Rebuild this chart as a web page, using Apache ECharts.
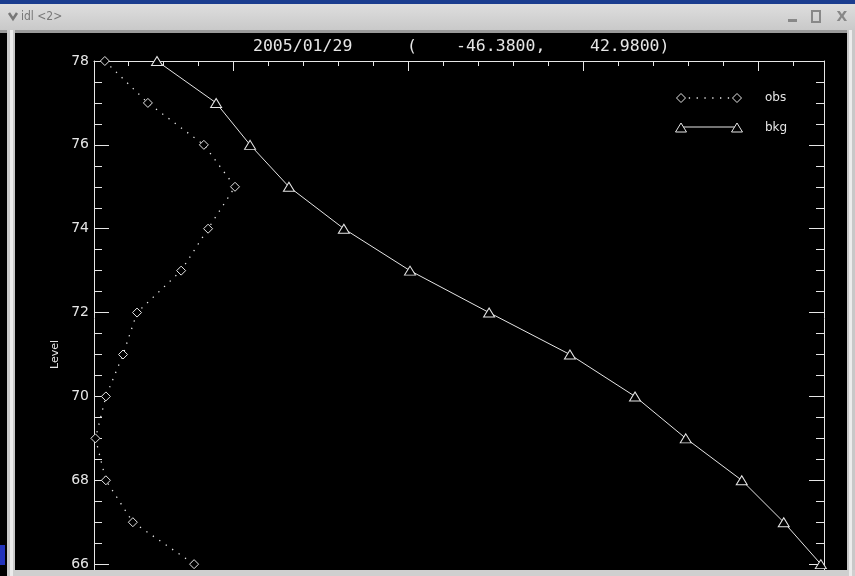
<!DOCTYPE html>
<html>
<head>
<meta charset="utf-8">
<script src="https://cdn.jsdelivr.net/npm/echarts@6/dist/echarts.min.js"></script>
<style>
  html, body { margin: 0; padding: 0; background: #000; }
  #main { width: 855px; height: 576px; }
</style>
</head>
<body>
<div id="main"></div>
<script>
// levels (y) and the two profiles (x, arbitrary units: 1 unit = one minor tick)
const levels = [78, 77, 76, 75, 74, 73, 72, 71, 70, 69, 68, 67, 66];
const obsValues = [1.33, 2.56, 4.16, 5.05, 4.28, 3.51, 2.25, 1.85, 1.36, 1.06, 1.36, 2.13, 3.88];
const bkgValues = [2.82, 4.51, 5.48, 6.59, 8.16, 10.05, 12.31, 14.62, 16.48, 17.93, 19.53, 20.73, 21.79];

const xMinorTicks = [2, 3, 4, 6, 7, 8, 9, 11, 12, 13, 14, 16, 17, 18, 19, 21];
const xMajorTicks = [5, 10, 15, 20];

const titleParts = [
  { text: '2005/01/29', left: 253 },
  { text: '(', left: 407 },
  { text: '-46.3800,', left: 456 },
  { text: '42.9800)', left: 590 }
];

const fg = '#e6e6e6';
const chart = echarts.init(document.getElementById('main'));

function pairs(xs) {
  return xs.map((v, i) => [v, levels[i]]);
}

// the plot box; grid 0 has the data and long ticks, grid 1 (same box) has the short ticks
const box = { left: 94, right: 31, top: 61, bottom: -72, outerBoundsMode: 'none' };

const xCommon = {
  type: 'value', position: 'top', min: 1.02, max: 21.88,
  axisLabel: { show: false }, splitLine: { show: false }
};
const yCommon = {
  type: 'value', min: 64, max: 78, splitLine: { show: false }
};

var option = {
  backgroundColor: '#000',
  animation: false,
  title: titleParts.map(p => ({
    text: p.text, left: p.left, top: 38, padding: 0,
    textStyle: { color: fg, fontSize: 16.5, fontWeight: 'normal', fontFamily: 'DejaVu Sans Mono' }
  })),
  grid: [box, Object.assign({}, box)],
  xAxis: [
    Object.assign({}, xCommon, {
      gridIndex: 0,
      axisLine: { show: true, onZero: false, lineStyle: { color: fg, width: 1 } },
      axisTick: { show: true, inside: true, length: 10, customValues: xMajorTicks, lineStyle: { color: fg } }
    }),
    Object.assign({}, xCommon, {
      gridIndex: 1,
      axisLine: { show: false, onZero: false },
      axisTick: { show: true, inside: true, length: 5, customValues: xMinorTicks, lineStyle: { color: fg } }
    })
  ],
  yAxis: [
    Object.assign({}, yCommon, {
      gridIndex: 0, position: 'left', interval: 2,
      name: 'Level', nameLocation: 'middle', nameRotate: 90, nameGap: 31,
      nameTextStyle: { color: fg, fontSize: 11, fontFamily: 'DejaVu Sans' },
      axisLine: { show: true, onZero: false, lineStyle: { color: fg } },
      axisTick: { show: true, inside: true, length: 15, lineStyle: { color: fg } },
      axisLabel: { color: fg, fontSize: 14, margin: 5, fontFamily: 'DejaVu Sans' }
    }),
    Object.assign({}, yCommon, {
      gridIndex: 0, position: 'right', interval: 2,
      axisLine: { show: true, onZero: false, lineStyle: { color: fg } }, axisLabel: { show: false },
      axisTick: { show: true, inside: true, length: 15, lineStyle: { color: fg } }
    }),
    Object.assign({}, yCommon, {
      gridIndex: 1, position: 'left', interval: 0.5,
      axisLine: { show: false, onZero: false }, axisLabel: { show: false },
      axisTick: { show: true, inside: true, length: 8, lineStyle: { color: fg } }
    }),
    Object.assign({}, yCommon, {
      gridIndex: 1, position: 'right', interval: 0.5,
      axisLine: { show: false, onZero: false }, axisLabel: { show: false },
      axisTick: { show: true, inside: true, length: 8, lineStyle: { color: fg } }
    })
  ],
  series: [
    {
      name: 'obs', type: 'line', xAxisIndex: 0, yAxisIndex: 0, data: pairs(obsValues),
      symbol: 'diamond', symbolSize: 9,
      itemStyle: { color: '#000', borderColor: fg, borderWidth: 1 },
      lineStyle: { color: fg, width: 1.3, type: [1.3, 6.5] }
    },
    {
      name: 'bkg', type: 'line', xAxisIndex: 0, yAxisIndex: 0, data: pairs(bkgValues),
      symbol: 'triangle', symbolSize: [11, 9],
      itemStyle: { color: '#000', borderColor: fg, borderWidth: 1 },
      lineStyle: { color: fg, width: 1 }
    }
  ],
  graphic: [
    // legend
    { type: 'line', shape: { x1: 681, y1: 98, x2: 737, y2: 98 }, style: { stroke: fg, lineWidth: 1.3, lineDash: [1.3, 6.5] } },
    { type: 'polygon', shape: { points: [[681, 93.5], [685.5, 98], [681, 102.5], [676.5, 98]] }, style: { fill: '#000', stroke: fg } },
    { type: 'polygon', shape: { points: [[737, 93.5], [741.5, 98], [737, 102.5], [732.5, 98]] }, style: { fill: '#000', stroke: fg } },
    { type: 'text', x: 765, y: 98, style: { text: 'obs', fill: fg, fontSize: 12, fontFamily: 'DejaVu Sans', verticalAlign: 'middle' } },
    { type: 'line', shape: { x1: 681, y1: 127, x2: 737, y2: 127 }, style: { stroke: fg, lineWidth: 1 } },
    { type: 'polygon', shape: { points: [[681, 123], [686.5, 132], [675.5, 132]] }, style: { fill: '#000', stroke: fg } },
    { type: 'polygon', shape: { points: [[737, 123], [742.5, 132], [731.5, 132]] }, style: { fill: '#000', stroke: fg } },
    { type: 'text', x: 765, y: 128, style: { text: 'bkg', fill: fg, fontSize: 12, fontFamily: 'DejaVu Sans', verticalAlign: 'middle' } },

    // window frame of the idl window
    { type: 'rect', z: 100, shape: { x: 0, y: 0, width: 855, height: 4 }, style: { fill: '#1b3d8f' } },
    { type: 'rect', z: 100, shape: { x: 0, y: 4, width: 855, height: 26 },
      style: { fill: new echarts.graphic.LinearGradient(0, 0, 0, 1, [{ offset: 0, color: '#dedede' }, { offset: 1, color: '#c9c9c9' }]) } },
    { type: 'rect', z: 100, shape: { x: 0, y: 30, width: 855, height: 3 }, style: { fill: '#9a9a9a' } },
    { type: 'rect', z: 100, shape: { x: 7, y: 30, width: 8, height: 546 }, style: { fill: '#c8c8c8' } },
    { type: 'rect', z: 101, shape: { x: 10, y: 30, width: 3, height: 546 }, style: { fill: '#ececec' } },
    { type: 'rect', z: 100, shape: { x: 847, y: 30, width: 8, height: 546 }, style: { fill: '#c8c8c8' } },
    { type: 'rect', z: 101, shape: { x: 849, y: 30, width: 3, height: 546 }, style: { fill: '#ececec' } },
    { type: 'rect', z: 100, shape: { x: 7, y: 570, width: 848, height: 6 }, style: { fill: '#cfcfcf' } },
    { type: 'rect', z: 100, shape: { x: 0, y: 545, width: 5, height: 20 }, style: { fill: '#2233bb' } },
    { type: 'polyline', z: 102, shape: { points: [[9, 13], [13, 19], [17, 13]] }, style: { stroke: '#777', lineWidth: 2.5, fill: null } },
    { type: 'text', z: 102, x: 21, y: 17, style: { text: 'idl <2>', fill: '#777', fontSize: 12, fontFamily: 'DejaVu Sans Condensed', verticalAlign: 'middle' } },
    { type: 'rect', z: 102, shape: { x: 788, y: 19, width: 9, height: 3 }, style: { fill: '#888' } },
    { type: 'rect', z: 102, shape: { x: 812, y: 11, width: 8, height: 11 }, style: { fill: 'none', stroke: '#888', lineWidth: 2 } },
    { type: 'text', z: 102, x: 842, y: 17, style: { text: 'X', fill: '#888', fontSize: 14, fontWeight: 'bold', fontFamily: 'DejaVu Sans', align: 'center', verticalAlign: 'middle' } }
  ]
};

chart.setOption(option);
</script>
</body>
</html>
